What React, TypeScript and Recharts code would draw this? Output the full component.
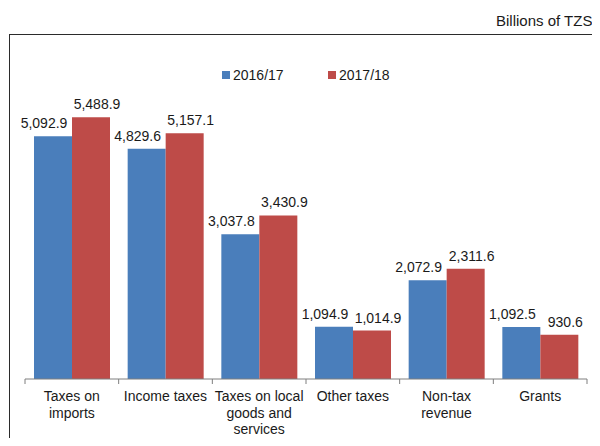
import { Bar, BarChart, LabelList, Legend, XAxis, YAxis } from 'recharts';

const categories = [
  'Taxes on imports',
  'Income taxes',
  'Taxes on local goods and services',
  'Other taxes',
  'Non-tax revenue',
  'Grants',
];
const tickLines = [
  ['Taxes on', 'imports'],
  ['Income taxes'],
  ['Taxes on local', 'goods and', 'services'],
  ['Other taxes'],
  ['Non-tax', 'revenue'],
  ['Grants'],
];
const fy2016 = [5092.9, 4829.6, 3037.8, 1094.9, 2072.9, 1092.5];
const fy2017 = [5488.9, 5157.1, 3430.9, 1014.9, 2311.6, 930.6];
const seriesNames = ['2016/17', '2017/18'];

const W = 600;
const H = 446;
const MARGIN = { top: 93, right: 13, bottom: 7, left: 25 };
const BAND = (W - MARGIN.left - MARGIN.right) / categories.length;
const FONT = '"Liberation Sans", Arial, Helvetica, sans-serif';
const BLUE = '#4a7ebb';
const RED = '#be4b48';

const data = categories.map((name, i) => ({
  name,
  [seriesNames[0]]: fy2016[i],
  [seriesNames[1]]: fy2017[i],
}));

const fmt = (v: number) =>
  v.toLocaleString('en-US', { minimumFractionDigits: 1, maximumFractionDigits: 1 });

function CategoryTick({ x, y, index }: any) {
  const lines = tickLines[index] ?? [];
  const half = BAND / 2;
  return (
    <g>
      <line x1={x - half} x2={x - half} y1={y} y2={y + 5} stroke='#7f7f7f' />
      {index === categories.length - 1 && (
        <line x1={x + half} x2={x + half} y1={y} y2={y + 5} stroke='#7f7f7f' />
      )}
      <text x={x} y={y + 22} textAnchor='middle' fontSize={14} fill='#1a1a1a' fontFamily={FONT}>
        {lines.map((l, i) => (
          <tspan key={i} x={x} dy={i === 0 ? 0 : 16.6}>{l}</tspan>
        ))}
      </text>
    </g>
  );
}

const makeLabel = (dx: number) => (props: any) => {
  const { x, y, width, value } = props;
  return (
    <text x={x + width / 2 + dx} y={y - 8} textAnchor='middle' fontSize={14} fill='#1a1a1a' fontFamily={FONT}>
      {fmt(value)}
    </text>
  );
};

function LegendBox({ payload }: any) {
  return (
    <div style={{ display: 'flex', fontFamily: FONT, fontSize: 14, color: '#1a1a1a' }}>
      {(payload ?? []).map((p: any) => (
        <div key={p.value} style={{ display: 'flex', alignItems: 'center', width: 106, height: 16 }}>
          <span style={{ width: 8, height: 8, background: p.color, marginRight: 3 }} />
          <span style={{ lineHeight: '16px' }}>{p.value}</span>
        </div>
      ))}
    </div>
  );
}

export default function App() {
  return (
    <div style={{ position: 'relative', width: W, height: H, margin: -8, overflow: 'hidden', fontFamily: FONT, background: '#fff' }}>
      <div style={{ position: 'absolute', left: 496, top: 13, fontSize: 15, lineHeight: '16px', whiteSpace: 'nowrap', color: '#1a1a1a' }}>
        Billions of TZS
      </div>
      <div style={{ position: 'absolute', left: 9, top: 34, width: 700, height: 600, border: '1px solid #2b2b2b' }} />
      <div style={{ position: 'absolute', left: 0, top: 0 }}>
        <BarChart width={W} height={H} data={data} margin={MARGIN} barCategoryGap={9} barGap={0}>
          <XAxis
            dataKey='name'
            height={60}
            stroke='#7f7f7f'
            tickLine={false}
            tickSize={0}
            tickMargin={0}
            tick={<CategoryTick />}
            interval={0}
          />
          <YAxis hide domain={[0, 6000]} />
          <Legend
            layout='horizontal'
            verticalAlign='middle'
            align='center'
            wrapperStyle={{ position: 'absolute', top: 67, left: 222, width: 240 }}
            content={<LegendBox />}
          />
          <Bar dataKey={seriesNames[0]} fill={BLUE} isAnimationActive={false}>
            <LabelList dataKey={seriesNames[0]} content={makeLabel(-9)} />
          </Bar>
          <Bar dataKey={seriesNames[1]} fill={RED} isAnimationActive={false}>
            <LabelList dataKey={seriesNames[1]} content={makeLabel(6)} />
          </Bar>
        </BarChart>
      </div>
    </div>
  );
}
